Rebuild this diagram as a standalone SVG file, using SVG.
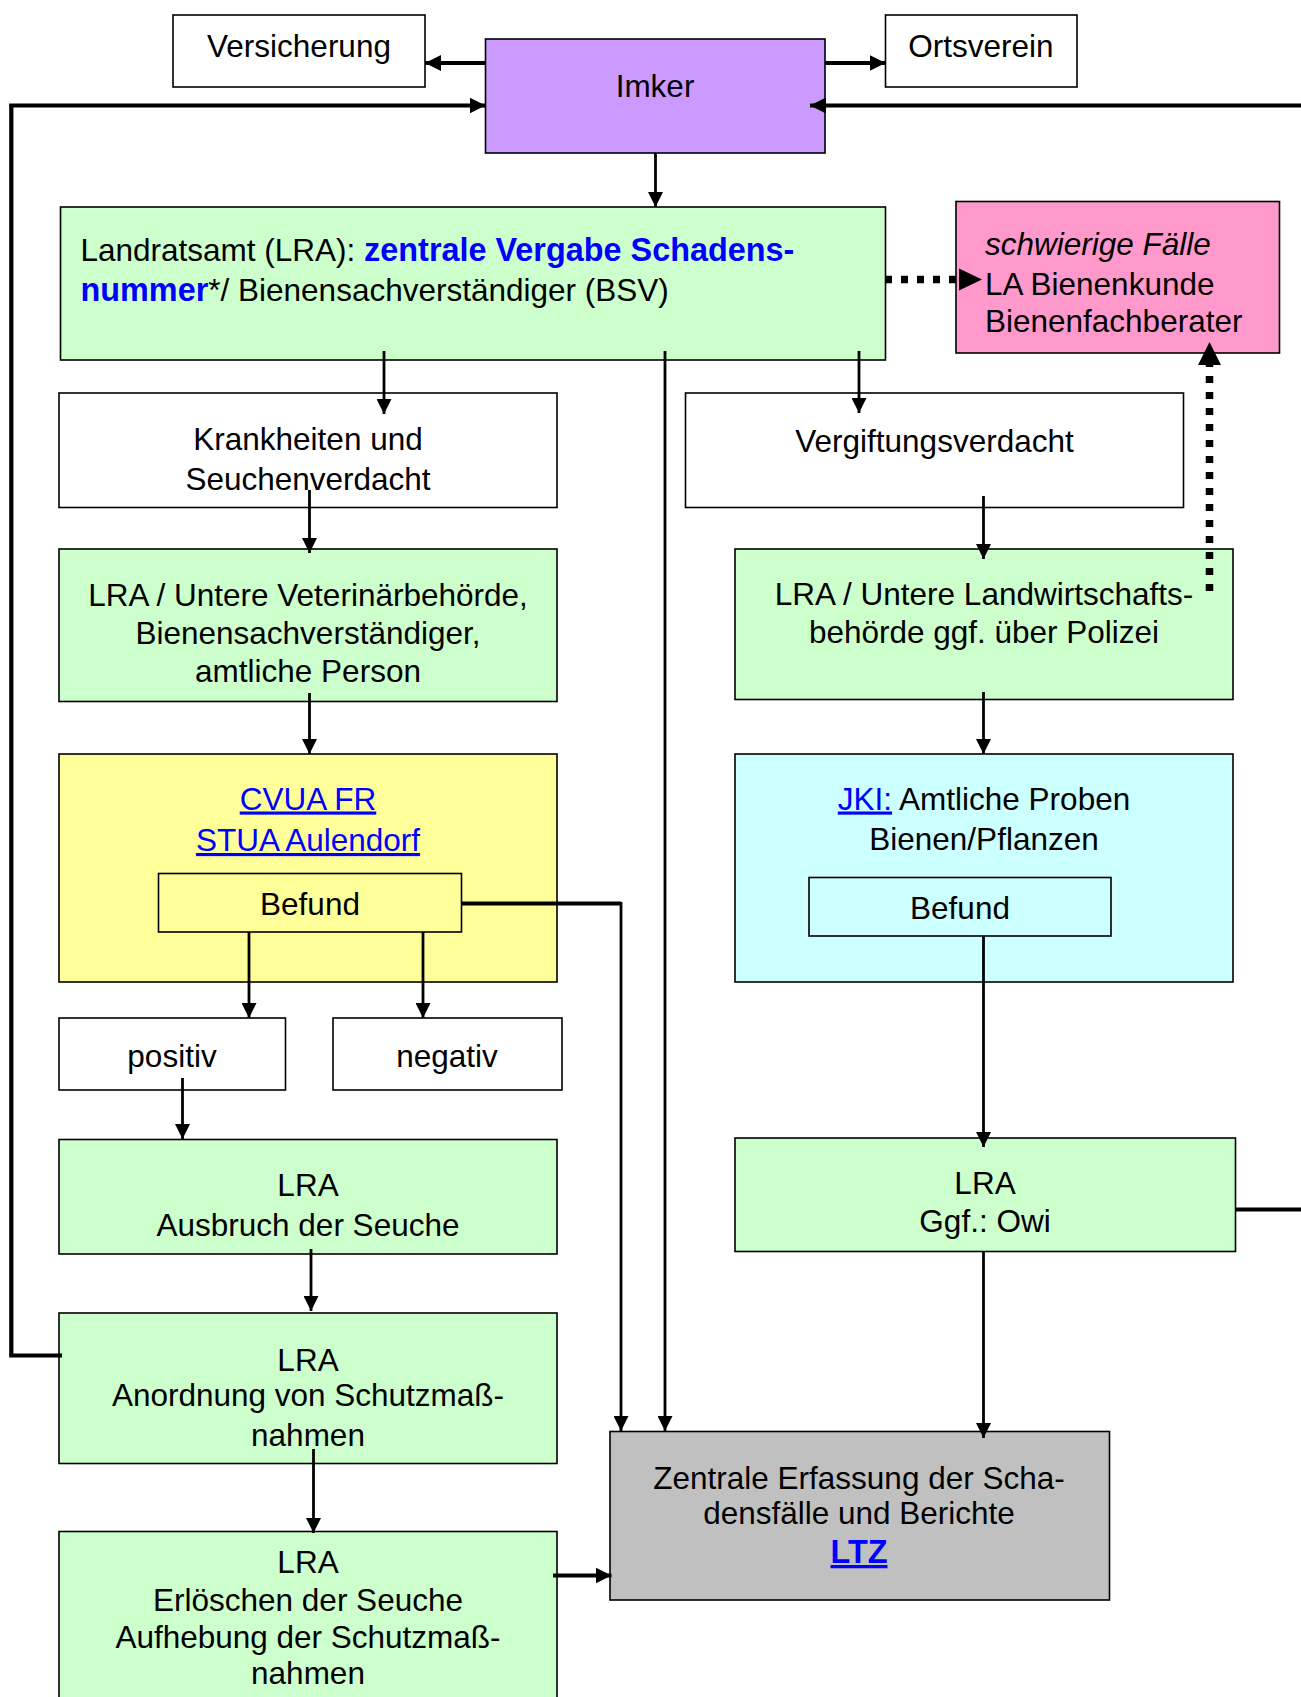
<svg xmlns="http://www.w3.org/2000/svg" width="1301" height="1697" viewBox="0 0 1301 1697">
<style>
text{font-family:"Liberation Sans",Arial,sans-serif;font-size:31.5px;fill:#000}
.c{text-anchor:middle}
.b{stroke:#000;stroke-width:1.6}
.w{fill:#fff}.g{fill:#ccffcc}.p{fill:#ff99cc}.y{fill:#ffff99}.cy{fill:#ccffff}.gr{fill:#c0c0c0}.v{fill:#cc99ff}
.ln{fill:none;stroke:#000;stroke-width:2.8}
.tk{fill:none;stroke:#000;stroke-width:4.2}
.dt{fill:none;stroke:#000;stroke-width:7.5;stroke-dasharray:7 9}
.blue{fill:#0000ff}
.bold{font-weight:bold;font-size:32.4px}
.u{text-decoration:underline}
</style>
<defs>
<marker id="a" viewBox="0 0 15 15" refX="15" refY="7.5" markerWidth="15" markerHeight="15" markerUnits="userSpaceOnUse" orient="auto">
<path d="M0,0 L15,7.5 L0,15 Z" fill="#000"/>
</marker>
<marker id="at" viewBox="0 0 16 16" refX="16" refY="8" markerWidth="16" markerHeight="16" markerUnits="userSpaceOnUse" orient="auto">
<path d="M0,0 L16,8 L0,16 Z" fill="#000"/>
</marker>
</defs>

<g id="versicherung"><rect class="b w" x="173" y="15" width="252" height="72"/><text class="c" x="299" y="57">Versicherung</text></g>
<g id="ortsverein"><rect class="b w" x="885.5" y="15" width="191.5" height="72"/><text class="c" x="981" y="57">Ortsverein</text></g>
<g id="imker"><rect class="b v" x="485.5" y="39" width="339.5" height="114"/><text class="c" x="655" y="96.5">Imker</text></g>
<g id="lra"><rect class="b g" x="60.5" y="207" width="825" height="153"/>
<text x="80.5" y="261">Landratsamt (LRA): <tspan class="blue bold">zentrale Vergabe Schadens-</tspan></text>
<text x="80.5" y="300.5"><tspan class="blue bold">nummer</tspan>*/ Bienensachverständiger (BSV)</text></g>
<g id="schwierig"><rect class="b p" x="956" y="201.5" width="323.5" height="151.5"/>
<text x="985" y="255" font-style="italic">schwierige Fälle</text>
<text x="985" y="294.5">LA Bienenkunde</text>
<text x="985" y="331.5">Bienenfachberater</text></g>
<g id="krankheiten"><rect class="b w" x="59" y="393" width="498" height="114.5"/>
<text class="c" x="308" y="450">Krankheiten und</text><text class="c" x="308" y="490">Seuchenverdacht</text></g>
<g id="vergiftung"><rect class="b w" x="685.5" y="393" width="498" height="114.5"/>
<text class="c" x="934.5" y="452">Vergiftungsverdacht</text></g>
<g id="lra-vet"><rect class="b g" x="59" y="549" width="498" height="152.5"/>
<text class="c" x="308" y="606">LRA / Untere Veterinärbehörde,</text>
<text class="c" x="308" y="644">Bienensachverständiger,</text>
<text class="c" x="308" y="682">amtliche Person</text></g>
<g id="lra-landw"><rect class="b g" x="735" y="549" width="498" height="150.5"/>
<text class="c" x="984" y="605">LRA / Untere Landwirtschafts-</text>
<text class="c" x="984" y="643">behörde ggf. über Polizei</text></g>
<g id="cvua"><rect class="b y" x="59" y="754" width="498" height="228"/>
<text class="c blue u" x="308" y="809.5">CVUA FR</text>
<text class="c blue u" x="308" y="851">STUA Aulendorf</text>
<rect class="b y" x="158.5" y="873.5" width="303" height="58.5"/>
<text class="c" x="310" y="914.5">Befund</text></g>
<g id="jki"><rect class="b cy" x="735" y="754" width="498" height="228"/>
<text class="c" x="984" y="809.5"><tspan class="blue u">JKI:</tspan> Amtliche Proben</text>
<text class="c" x="984" y="850">Bienen/Pflanzen</text>
<rect class="b cy" x="809" y="877.5" width="302" height="58.5"/>
<text class="c" x="960" y="919">Befund</text></g>
<g id="positiv"><rect class="b w" x="59" y="1018" width="226.5" height="72"/><text class="c" x="172" y="1067">positiv</text></g>
<g id="negativ"><rect class="b w" x="333" y="1018" width="229" height="72"/><text class="c" x="447" y="1067">negativ</text></g>
<g id="ausbruch"><rect class="b g" x="59" y="1139.5" width="498" height="114.5"/>
<text class="c" x="308" y="1196">LRA</text><text class="c" x="308" y="1236">Ausbruch der Seuche</text></g>
<g id="owi"><rect class="b g" x="735" y="1138" width="500.5" height="113.5"/>
<text class="c" x="985" y="1194">LRA</text><text class="c" x="985" y="1232">Ggf.: Owi</text></g>
<g id="anordnung"><rect class="b g" x="59" y="1313" width="498" height="150.5"/>
<text class="c" x="308" y="1370.5">LRA</text>
<text class="c" x="308" y="1406">Anordnung von Schutzmaß-</text>
<text class="c" x="308" y="1446">nahmen</text></g>
<g id="zentrale"><rect class="b gr" x="610" y="1431.5" width="499.5" height="168.5"/>
<text class="c" x="859" y="1489">Zentrale Erfassung der Scha-</text>
<text class="c" x="859" y="1524">densfälle und Berichte</text>
<text class="c blue bold u" x="859" y="1563">LTZ</text></g>
<g id="erloeschen"><rect class="b g" x="59" y="1531.5" width="498" height="180"/>
<text class="c" x="308" y="1573">LRA</text>
<text class="c" x="308" y="1610.5">Erlöschen der Seuche</text>
<text class="c" x="308" y="1648">Aufhebung der Schutzmaß-</text>
<text class="c" x="308" y="1684">nahmen</text></g>

<g id="connectors">
<path class="tk" d="M485.5,63 H425" marker-end="url(#at)"/>
<path class="tk" d="M825,63 H885.5" marker-end="url(#at)"/>
<path class="ln" d="M655.5,153 V207" marker-end="url(#a)"/>
<path class="tk" d="M11.3,1355.5 V105.5"/>
<path class="tk" d="M62,1355.5 H9.2"/>
<path class="tk" d="M9.2,105.5 H485.5" marker-end="url(#at)"/>
<path class="tk" d="M1301,105.5 H810" marker-end="url(#at)"/>
<path class="tk" d="M1235,1209.5 H1301"/>
<path class="dt" d="M885,279.5 H960"/>
<path d="M959,268.5 L982,279.5 L959,290.5 Z" fill="#000"/>
<path class="dt" d="M1209.5,591 V365"/>
<path d="M1198,365 L1209.5,342 L1221,365 Z" fill="#000"/>
<path class="ln" d="M384,351 V414" marker-end="url(#a)"/>
<path class="ln" d="M859,351 V413" marker-end="url(#a)"/>
<path class="ln" d="M665,351 V1431" marker-end="url(#a)"/>
<path class="ln" d="M309.5,490 V553" marker-end="url(#a)"/>
<path class="ln" d="M309.5,693 V754" marker-end="url(#a)"/>
<path class="ln" d="M983.5,496 V559" marker-end="url(#a)"/>
<path class="ln" d="M983.5,692 V754" marker-end="url(#a)"/>
<path class="ln" d="M983.5,936 V1147" marker-end="url(#a)"/>
<path class="ln" d="M983.5,1251 V1438" marker-end="url(#a)"/>
<path class="ln" d="M249,932 V1018" marker-end="url(#a)"/>
<path class="ln" d="M423,932 V1018" marker-end="url(#a)"/>
<path class="tk" d="M461.5,903.5 H621"/>
<path class="ln" d="M621,902 V1431" marker-end="url(#a)"/>
<path class="ln" d="M182.5,1078 V1139" marker-end="url(#a)"/>
<path class="ln" d="M311,1249 V1311" marker-end="url(#a)"/>
<path class="ln" d="M313.5,1449 V1533" marker-end="url(#a)"/>
<path class="tk" d="M553,1575.5 H611.5" marker-end="url(#at)"/>
</g>
</svg>
